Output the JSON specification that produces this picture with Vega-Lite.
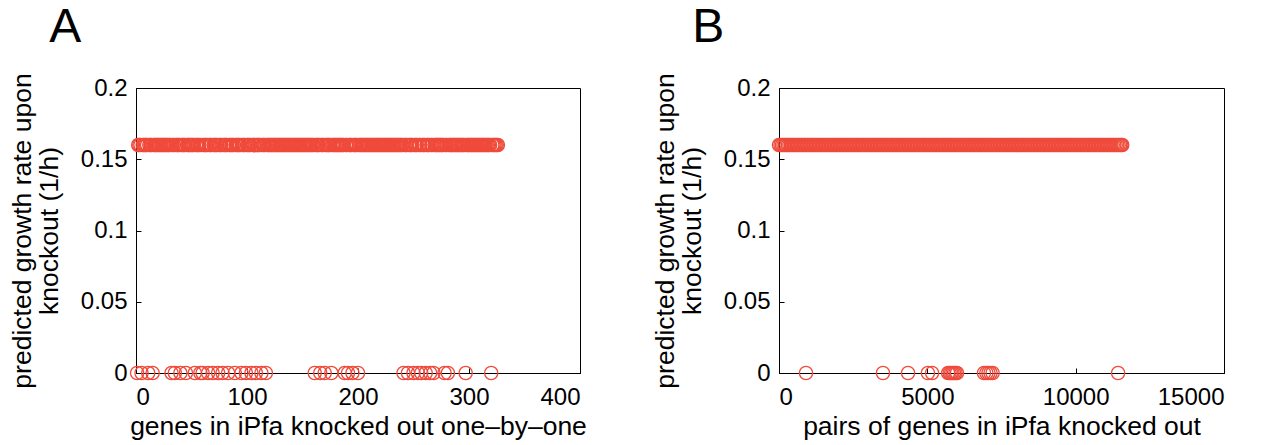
{
"$schema": "https://vega.github.io/schema/vega-lite/v6.json",
"background": "white",
"padding": {"left": 8, "top": 3, "right": 10, "bottom": 2},
"config": {
  "font": "Liberation Sans",
  "view": {"stroke": "black", "strokeWidth": 1},
  "axis": {"domainColor": "black", "tickColor": "black", "labelColor": "black", "titleColor": "black", "labelFontSize": 24, "titleFontSize": 26.5, "titleFontWeight": "normal", "grid": false, "tickSize": -5, "labelPadding": 14, "titleLineHeight": 27, "titlePadding": 17},
  "axisX": {"titlePadding": 4, "labelPadding": 17},
  "title": {"fontSize": 48, "fontWeight": "normal", "anchor": "start", "frame": "bounds", "color": "black", "offset": 21},
  "concat": {"spacing": 64}
},
"datasets": {
"single": [
{"gene":1,"rate":0},{"gene":2,"rate":0.16},{"gene":3,"rate":0.16},{"gene":4,"rate":0.16},{"gene":5,"rate":0},{"gene":6,"rate":0.16},{"gene":7,"rate":0.16},{"gene":8,"rate":0.16},{"gene":9,"rate":0.16},{"gene":10,"rate":0.16},
{"gene":11,"rate":0},{"gene":12,"rate":0.16},{"gene":13,"rate":0.16},{"gene":14,"rate":0.16},{"gene":15,"rate":0},{"gene":16,"rate":0.16},{"gene":17,"rate":0.16},{"gene":18,"rate":0.16},{"gene":19,"rate":0.16},{"gene":20,"rate":0.16},
{"gene":21,"rate":0.16},{"gene":22,"rate":0.16},{"gene":23,"rate":0.16},{"gene":24,"rate":0.16},{"gene":25,"rate":0.16},{"gene":26,"rate":0.16},{"gene":27,"rate":0.16},{"gene":28,"rate":0.16},{"gene":29,"rate":0.16},{"gene":30,"rate":0.16},
{"gene":31,"rate":0.16},{"gene":32,"rate":0},{"gene":33,"rate":0.16},{"gene":34,"rate":0.16},{"gene":35,"rate":0},{"gene":36,"rate":0.16},{"gene":37,"rate":0.16},{"gene":38,"rate":0.16},{"gene":39,"rate":0.16},{"gene":40,"rate":0},
{"gene":41,"rate":0.16},{"gene":42,"rate":0.16},{"gene":43,"rate":0.16},{"gene":44,"rate":0.16},{"gene":45,"rate":0},{"gene":46,"rate":0.16},{"gene":47,"rate":0.16},{"gene":48,"rate":0.16},{"gene":49,"rate":0.16},{"gene":50,"rate":0.16},
{"gene":51,"rate":0.16},{"gene":52,"rate":0.16},{"gene":53,"rate":0},{"gene":54,"rate":0.16},{"gene":55,"rate":0.16},{"gene":56,"rate":0.16},{"gene":57,"rate":0.16},{"gene":58,"rate":0},{"gene":59,"rate":0.16},{"gene":60,"rate":0},
{"gene":61,"rate":0.16},{"gene":62,"rate":0.16},{"gene":63,"rate":0.16},{"gene":64,"rate":0.16},{"gene":65,"rate":0},{"gene":66,"rate":0.16},{"gene":67,"rate":0.16},{"gene":68,"rate":0.16},{"gene":69,"rate":0},{"gene":70,"rate":0.16},
{"gene":71,"rate":0.16},{"gene":72,"rate":0.16},{"gene":73,"rate":0.16},{"gene":74,"rate":0},{"gene":75,"rate":0.16},{"gene":76,"rate":0.16},{"gene":77,"rate":0.16},{"gene":78,"rate":0},{"gene":79,"rate":0.16},{"gene":80,"rate":0.16},
{"gene":81,"rate":0.16},{"gene":82,"rate":0.16},{"gene":83,"rate":0},{"gene":84,"rate":0.16},{"gene":85,"rate":0.16},{"gene":86,"rate":0.16},{"gene":87,"rate":0.16},{"gene":88,"rate":0.16},{"gene":89,"rate":0},{"gene":90,"rate":0.16},
{"gene":91,"rate":0.16},{"gene":92,"rate":0.16},{"gene":93,"rate":0.16},{"gene":94,"rate":0.16},{"gene":95,"rate":0},{"gene":96,"rate":0.16},{"gene":97,"rate":0.16},{"gene":98,"rate":0.16},{"gene":99,"rate":0},{"gene":100,"rate":0.16},
{"gene":101,"rate":0.16},{"gene":102,"rate":0.16},{"gene":103,"rate":0.16},{"gene":104,"rate":0},{"gene":105,"rate":0.16},{"gene":106,"rate":0.16},{"gene":107,"rate":0.16},{"gene":108,"rate":0},{"gene":109,"rate":0.16},{"gene":110,"rate":0.16},
{"gene":111,"rate":0.16},{"gene":112,"rate":0.16},{"gene":113,"rate":0},{"gene":114,"rate":0.16},{"gene":115,"rate":0.16},{"gene":116,"rate":0.16},{"gene":117,"rate":0},{"gene":118,"rate":0.16},{"gene":119,"rate":0.16},{"gene":120,"rate":0.16},
{"gene":121,"rate":0.16},{"gene":122,"rate":0.16},{"gene":123,"rate":0.16},{"gene":124,"rate":0.16},{"gene":125,"rate":0.16},{"gene":126,"rate":0.16},{"gene":127,"rate":0.16},{"gene":128,"rate":0.16},{"gene":129,"rate":0.16},{"gene":130,"rate":0.16},
{"gene":131,"rate":0.16},{"gene":132,"rate":0.16},{"gene":133,"rate":0.16},{"gene":134,"rate":0.16},{"gene":135,"rate":0.16},{"gene":136,"rate":0.16},{"gene":137,"rate":0.16},{"gene":138,"rate":0.16},{"gene":139,"rate":0.16},{"gene":140,"rate":0.16},
{"gene":141,"rate":0.16},{"gene":142,"rate":0.16},{"gene":143,"rate":0.16},{"gene":144,"rate":0.16},{"gene":145,"rate":0.16},{"gene":146,"rate":0.16},{"gene":147,"rate":0.16},{"gene":148,"rate":0.16},{"gene":149,"rate":0.16},{"gene":150,"rate":0.16},
{"gene":151,"rate":0.16},{"gene":152,"rate":0.16},{"gene":153,"rate":0.16},{"gene":154,"rate":0.16},{"gene":155,"rate":0.16},{"gene":156,"rate":0.16},{"gene":157,"rate":0.16},{"gene":158,"rate":0.16},{"gene":159,"rate":0.16},{"gene":160,"rate":0.16},
{"gene":161,"rate":0},{"gene":162,"rate":0.16},{"gene":163,"rate":0.16},{"gene":164,"rate":0.16},{"gene":165,"rate":0.16},{"gene":166,"rate":0},{"gene":167,"rate":0.16},{"gene":168,"rate":0.16},{"gene":169,"rate":0.16},{"gene":170,"rate":0},
{"gene":171,"rate":0.16},{"gene":172,"rate":0.16},{"gene":173,"rate":0.16},{"gene":174,"rate":0.16},{"gene":175,"rate":0.16},{"gene":176,"rate":0},{"gene":177,"rate":0.16},{"gene":178,"rate":0.16},{"gene":179,"rate":0.16},{"gene":180,"rate":0.16},
{"gene":181,"rate":0.16},{"gene":182,"rate":0.16},{"gene":183,"rate":0.16},{"gene":184,"rate":0.16},{"gene":185,"rate":0.16},{"gene":186,"rate":0.16},{"gene":187,"rate":0.16},{"gene":188,"rate":0},{"gene":189,"rate":0.16},{"gene":190,"rate":0.16},
{"gene":191,"rate":0},{"gene":192,"rate":0.16},{"gene":193,"rate":0.16},{"gene":194,"rate":0.16},{"gene":195,"rate":0},{"gene":196,"rate":0.16},{"gene":197,"rate":0.16},{"gene":198,"rate":0.16},{"gene":199,"rate":0.16},{"gene":200,"rate":0},
{"gene":201,"rate":0.16},{"gene":202,"rate":0.16},{"gene":203,"rate":0.16},{"gene":204,"rate":0.16},{"gene":205,"rate":0.16},{"gene":206,"rate":0.16},{"gene":207,"rate":0.16},{"gene":208,"rate":0.16},{"gene":209,"rate":0.16},{"gene":210,"rate":0.16},
{"gene":211,"rate":0.16},{"gene":212,"rate":0.16},{"gene":213,"rate":0.16},{"gene":214,"rate":0.16},{"gene":215,"rate":0.16},{"gene":216,"rate":0.16},{"gene":217,"rate":0.16},{"gene":218,"rate":0.16},{"gene":219,"rate":0.16},{"gene":220,"rate":0.16},
{"gene":221,"rate":0.16},{"gene":222,"rate":0.16},{"gene":223,"rate":0.16},{"gene":224,"rate":0.16},{"gene":225,"rate":0.16},{"gene":226,"rate":0.16},{"gene":227,"rate":0.16},{"gene":228,"rate":0.16},{"gene":229,"rate":0.16},{"gene":230,"rate":0.16},
{"gene":231,"rate":0.16},{"gene":232,"rate":0.16},{"gene":233,"rate":0.16},{"gene":234,"rate":0.16},{"gene":235,"rate":0.16},{"gene":236,"rate":0.16},{"gene":237,"rate":0.16},{"gene":238,"rate":0.16},{"gene":239,"rate":0.16},{"gene":240,"rate":0.16},
{"gene":241,"rate":0},{"gene":242,"rate":0.16},{"gene":243,"rate":0.16},{"gene":244,"rate":0.16},{"gene":245,"rate":0},{"gene":246,"rate":0.16},{"gene":247,"rate":0.16},{"gene":248,"rate":0.16},{"gene":249,"rate":0.16},{"gene":250,"rate":0},
{"gene":251,"rate":0.16},{"gene":252,"rate":0.16},{"gene":253,"rate":0.16},{"gene":254,"rate":0},{"gene":255,"rate":0.16},{"gene":256,"rate":0.16},{"gene":257,"rate":0},{"gene":258,"rate":0.16},{"gene":259,"rate":0.16},{"gene":260,"rate":0.16},
{"gene":261,"rate":0},{"gene":262,"rate":0.16},{"gene":263,"rate":0.16},{"gene":264,"rate":0.16},{"gene":265,"rate":0},{"gene":266,"rate":0.16},{"gene":267,"rate":0.16},{"gene":268,"rate":0},{"gene":269,"rate":0.16},{"gene":270,"rate":0.16},
{"gene":271,"rate":0.16},{"gene":272,"rate":0.16},{"gene":273,"rate":0.16},{"gene":274,"rate":0.16},{"gene":275,"rate":0.16},{"gene":276,"rate":0.16},{"gene":277,"rate":0.16},{"gene":278,"rate":0},{"gene":279,"rate":0.16},{"gene":280,"rate":0.16},
{"gene":281,"rate":0},{"gene":282,"rate":0.16},{"gene":283,"rate":0.16},{"gene":284,"rate":0.16},{"gene":285,"rate":0.16},{"gene":286,"rate":0.16},{"gene":287,"rate":0.16},{"gene":288,"rate":0.16},{"gene":289,"rate":0.16},{"gene":290,"rate":0.16},
{"gene":291,"rate":0.16},{"gene":292,"rate":0.16},{"gene":293,"rate":0.16},{"gene":294,"rate":0.16},{"gene":295,"rate":0.16},{"gene":296,"rate":0.16},{"gene":297,"rate":0},{"gene":298,"rate":0.16},{"gene":299,"rate":0.16},{"gene":300,"rate":0.16},
{"gene":301,"rate":0.16},{"gene":302,"rate":0.16},{"gene":303,"rate":0.16},{"gene":304,"rate":0.16},{"gene":305,"rate":0.16},{"gene":306,"rate":0.16},{"gene":307,"rate":0.16},{"gene":308,"rate":0.16},{"gene":309,"rate":0.16},{"gene":310,"rate":0.16},
{"gene":311,"rate":0.16},{"gene":312,"rate":0.16},{"gene":313,"rate":0.16},{"gene":314,"rate":0.16},{"gene":315,"rate":0.16},{"gene":316,"rate":0.16},{"gene":317,"rate":0.16},{"gene":318,"rate":0.16},{"gene":319,"rate":0.16},{"gene":320,"rate":0},
{"gene":321,"rate":0.16},{"gene":322,"rate":0.16},{"gene":323,"rate":0.16},{"gene":324,"rate":0.16},{"gene":325,"rate":0.16},{"gene":326,"rate":0.16}
],
"pairs": [
{"pair":1,"rate":0.16},{"pair":50,"rate":0.16},{"pair":100,"rate":0.16},{"pair":150,"rate":0.16},{"pair":200,"rate":0.16},{"pair":250,"rate":0.16},{"pair":300,"rate":0.16},{"pair":350,"rate":0.16},{"pair":400,"rate":0.16},{"pair":450,"rate":0.16},
{"pair":500,"rate":0.16},{"pair":550,"rate":0.16},{"pair":600,"rate":0.16},{"pair":650,"rate":0.16},{"pair":700,"rate":0.16},{"pair":750,"rate":0.16},{"pair":800,"rate":0.16},{"pair":850,"rate":0.16},{"pair":900,"rate":0.16},{"pair":950,"rate":0.16},
{"pair":1000,"rate":0.16},{"pair":1050,"rate":0.16},{"pair":1100,"rate":0.16},{"pair":1150,"rate":0.16},{"pair":1200,"rate":0.16},{"pair":1250,"rate":0.16},{"pair":1300,"rate":0.16},{"pair":1350,"rate":0.16},{"pair":1400,"rate":0.16},{"pair":1450,"rate":0.16},
{"pair":1500,"rate":0.16},{"pair":1550,"rate":0.16},{"pair":1600,"rate":0.16},{"pair":1650,"rate":0.16},{"pair":1700,"rate":0.16},{"pair":1750,"rate":0.16},{"pair":1800,"rate":0.16},{"pair":1850,"rate":0.16},{"pair":1900,"rate":0.16},{"pair":1950,"rate":0.16},
{"pair":2000,"rate":0.16},{"pair":2050,"rate":0.16},{"pair":2100,"rate":0.16},{"pair":2150,"rate":0.16},{"pair":2200,"rate":0.16},{"pair":2250,"rate":0.16},{"pair":2300,"rate":0.16},{"pair":2350,"rate":0.16},{"pair":2400,"rate":0.16},{"pair":2450,"rate":0.16},
{"pair":2500,"rate":0.16},{"pair":2550,"rate":0.16},{"pair":2600,"rate":0.16},{"pair":2650,"rate":0.16},{"pair":2700,"rate":0.16},{"pair":2750,"rate":0.16},{"pair":2800,"rate":0.16},{"pair":2850,"rate":0.16},{"pair":2900,"rate":0.16},{"pair":2950,"rate":0.16},
{"pair":3000,"rate":0.16},{"pair":3050,"rate":0.16},{"pair":3100,"rate":0.16},{"pair":3150,"rate":0.16},{"pair":3200,"rate":0.16},{"pair":3250,"rate":0.16},{"pair":3300,"rate":0.16},{"pair":3350,"rate":0.16},{"pair":3400,"rate":0.16},{"pair":3450,"rate":0.16},
{"pair":3500,"rate":0.16},{"pair":3550,"rate":0.16},{"pair":3600,"rate":0.16},{"pair":3650,"rate":0.16},{"pair":3700,"rate":0.16},{"pair":3750,"rate":0.16},{"pair":3800,"rate":0.16},{"pair":3850,"rate":0.16},{"pair":3900,"rate":0.16},{"pair":3950,"rate":0.16},
{"pair":4000,"rate":0.16},{"pair":4050,"rate":0.16},{"pair":4100,"rate":0.16},{"pair":4150,"rate":0.16},{"pair":4200,"rate":0.16},{"pair":4250,"rate":0.16},{"pair":4300,"rate":0.16},{"pair":4350,"rate":0.16},{"pair":4400,"rate":0.16},{"pair":4450,"rate":0.16},
{"pair":4500,"rate":0.16},{"pair":4550,"rate":0.16},{"pair":4600,"rate":0.16},{"pair":4650,"rate":0.16},{"pair":4700,"rate":0.16},{"pair":4750,"rate":0.16},{"pair":4800,"rate":0.16},{"pair":4850,"rate":0.16},{"pair":4900,"rate":0.16},{"pair":4950,"rate":0.16},
{"pair":5000,"rate":0.16},{"pair":5050,"rate":0.16},{"pair":5100,"rate":0.16},{"pair":5150,"rate":0.16},{"pair":5200,"rate":0.16},{"pair":5250,"rate":0.16},{"pair":5300,"rate":0.16},{"pair":5350,"rate":0.16},{"pair":5400,"rate":0.16},{"pair":5450,"rate":0.16},
{"pair":5500,"rate":0.16},{"pair":5550,"rate":0.16},{"pair":5600,"rate":0.16},{"pair":5650,"rate":0.16},{"pair":5700,"rate":0.16},{"pair":5750,"rate":0.16},{"pair":5800,"rate":0.16},{"pair":5850,"rate":0.16},{"pair":5900,"rate":0.16},{"pair":5950,"rate":0.16},
{"pair":6000,"rate":0.16},{"pair":6050,"rate":0.16},{"pair":6100,"rate":0.16},{"pair":6150,"rate":0.16},{"pair":6200,"rate":0.16},{"pair":6250,"rate":0.16},{"pair":6300,"rate":0.16},{"pair":6350,"rate":0.16},{"pair":6400,"rate":0.16},{"pair":6450,"rate":0.16},
{"pair":6500,"rate":0.16},{"pair":6550,"rate":0.16},{"pair":6600,"rate":0.16},{"pair":6650,"rate":0.16},{"pair":6700,"rate":0.16},{"pair":6750,"rate":0.16},{"pair":6800,"rate":0.16},{"pair":6850,"rate":0.16},{"pair":6900,"rate":0.16},{"pair":6950,"rate":0.16},
{"pair":7000,"rate":0.16},{"pair":7050,"rate":0.16},{"pair":7100,"rate":0.16},{"pair":7150,"rate":0.16},{"pair":7200,"rate":0.16},{"pair":7250,"rate":0.16},{"pair":7300,"rate":0.16},{"pair":7350,"rate":0.16},{"pair":7400,"rate":0.16},{"pair":7450,"rate":0.16},
{"pair":7500,"rate":0.16},{"pair":7550,"rate":0.16},{"pair":7600,"rate":0.16},{"pair":7650,"rate":0.16},{"pair":7700,"rate":0.16},{"pair":7750,"rate":0.16},{"pair":7800,"rate":0.16},{"pair":7850,"rate":0.16},{"pair":7900,"rate":0.16},{"pair":7950,"rate":0.16},
{"pair":8000,"rate":0.16},{"pair":8050,"rate":0.16},{"pair":8100,"rate":0.16},{"pair":8150,"rate":0.16},{"pair":8200,"rate":0.16},{"pair":8250,"rate":0.16},{"pair":8300,"rate":0.16},{"pair":8350,"rate":0.16},{"pair":8400,"rate":0.16},{"pair":8450,"rate":0.16},
{"pair":8500,"rate":0.16},{"pair":8550,"rate":0.16},{"pair":8600,"rate":0.16},{"pair":8650,"rate":0.16},{"pair":8700,"rate":0.16},{"pair":8750,"rate":0.16},{"pair":8800,"rate":0.16},{"pair":8850,"rate":0.16},{"pair":8900,"rate":0.16},{"pair":8950,"rate":0.16},
{"pair":9000,"rate":0.16},{"pair":9050,"rate":0.16},{"pair":9100,"rate":0.16},{"pair":9150,"rate":0.16},{"pair":9200,"rate":0.16},{"pair":9250,"rate":0.16},{"pair":9300,"rate":0.16},{"pair":9350,"rate":0.16},{"pair":9400,"rate":0.16},{"pair":9450,"rate":0.16},
{"pair":9500,"rate":0.16},{"pair":9550,"rate":0.16},{"pair":9600,"rate":0.16},{"pair":9650,"rate":0.16},{"pair":9700,"rate":0.16},{"pair":9750,"rate":0.16},{"pair":9800,"rate":0.16},{"pair":9850,"rate":0.16},{"pair":9900,"rate":0.16},{"pair":9950,"rate":0.16},
{"pair":10000,"rate":0.16},{"pair":10050,"rate":0.16},{"pair":10100,"rate":0.16},{"pair":10150,"rate":0.16},{"pair":10200,"rate":0.16},{"pair":10250,"rate":0.16},{"pair":10300,"rate":0.16},{"pair":10350,"rate":0.16},{"pair":10400,"rate":0.16},{"pair":10450,"rate":0.16},
{"pair":10500,"rate":0.16},{"pair":10550,"rate":0.16},{"pair":10600,"rate":0.16},{"pair":10650,"rate":0.16},{"pair":10700,"rate":0.16},{"pair":10750,"rate":0.16},{"pair":10800,"rate":0.16},{"pair":10850,"rate":0.16},{"pair":10900,"rate":0.16},{"pair":10950,"rate":0.16},
{"pair":11000,"rate":0.16},{"pair":11050,"rate":0.16},{"pair":11100,"rate":0.16},{"pair":11150,"rate":0.16},{"pair":11200,"rate":0.16},{"pair":11250,"rate":0.16},{"pair":11300,"rate":0.16},{"pair":11350,"rate":0.16},{"pair":11400,"rate":0.16},{"pair":11450,"rate":0.16},
{"pair":11500,"rate":0.16},{"pair":11540,"rate":0.16},{"pair":11570,"rate":0.16},
{"pair":910,"rate":0},{"pair":3505,"rate":0},{"pair":4350,"rate":0},{"pair":5020,"rate":0},{"pair":5160,"rate":0},{"pair":5700,"rate":0},{"pair":5750,"rate":0},{"pair":5800,"rate":0},{"pair":5850,"rate":0},{"pair":5900,"rate":0},
{"pair":5950,"rate":0},{"pair":6000,"rate":0},{"pair":6910,"rate":0},{"pair":6990,"rate":0},{"pair":7060,"rate":0},{"pair":7130,"rate":0},{"pair":7200,"rate":0},{"pair":11430,"rate":0}
]
},
"hconcat": [
  {
    "title": {"text": "A", "dx": 40},
    "width": 444, "height": 285,
    "data": {"name": "single"},
    "mark": {"type": "point", "shape": "circle", "filled": false, "size": 175, "strokeWidth": 1.3, "color": "#ef4a3b", "opacity": 1},
    "encoding": {
      "x": {"field": "gene", "type": "quantitative", "scale": {"domain": [0, 400], "nice": false}, "axis": {"values": [0, 100, 200, 300, 400], "format": "d", "title": "genes in iPfa knocked out one\u2013by\u2013one"}},
      "y": {"field": "rate", "type": "quantitative", "scale": {"domain": [0, 0.2], "nice": false}, "axis": {"values": [0, 0.05, 0.1, 0.15, 0.2], "format": "~g", "title": ["predicted growth rate upon", "knockout (1/h)"]}}
    }
  },
  {
    "title": {"text": "B", "dx": 40},
    "width": 445, "height": 285,
    "data": {"name": "pairs"},
    "mark": {"type": "point", "shape": "circle", "filled": false, "size": 175, "strokeWidth": 1.3, "color": "#ef4a3b", "opacity": 1},
    "encoding": {
      "x": {"field": "pair", "type": "quantitative", "scale": {"domain": [0, 15000], "nice": false}, "axis": {"values": [0, 5000, 10000, 15000], "format": "d", "title": "pairs of genes in iPfa knocked out"}},
      "y": {"field": "rate", "type": "quantitative", "scale": {"domain": [0, 0.2], "nice": false}, "axis": {"values": [0, 0.05, 0.1, 0.15, 0.2], "format": "~g", "title": ["predicted growth rate upon", "knockout (1/h)"]}}
    }
  }
]
}
